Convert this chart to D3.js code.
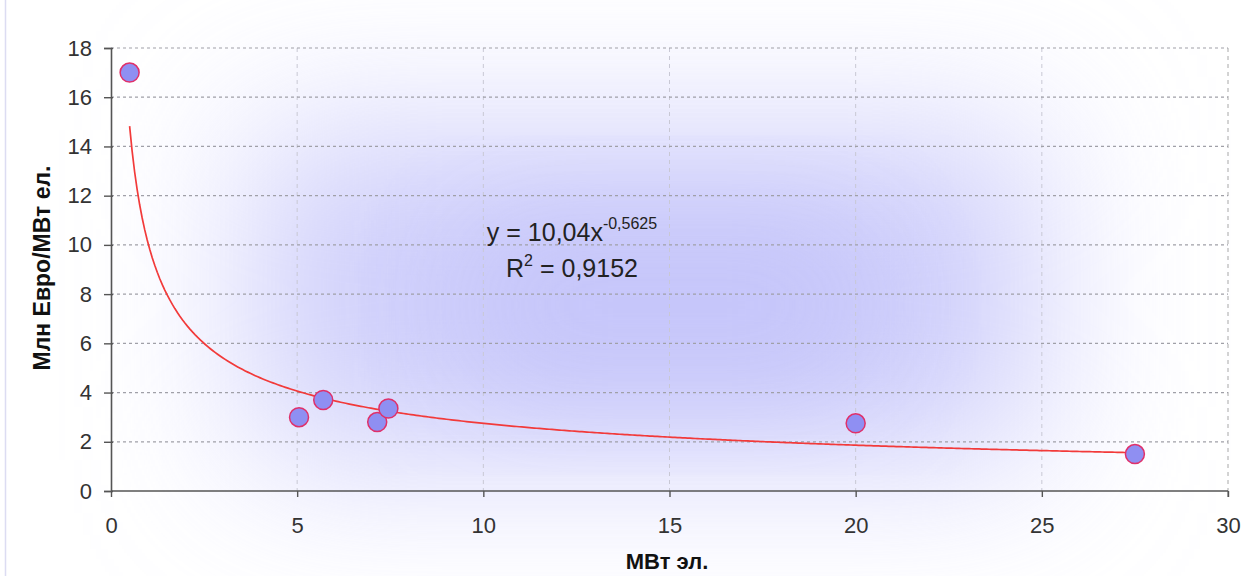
<!DOCTYPE html>
<html><head><meta charset="utf-8">
<script src="https://cdn.jsdelivr.net/npm/d3@7"></script>
<style>html,body{margin:0;padding:0;background:#fff;}svg{display:block;}</style>
</head><body>
<script>
// Data
const xValues = [0.5, 5.05, 5.7, 7.15, 7.45, 20, 27.5];
const yValues = [17, 3.0, 3.7, 2.8, 3.35, 2.75, 1.5];
const xTicks = [0, 5, 10, 15, 20, 25, 30];
const yTicks = [0, 2, 4, 6, 8, 10, 12, 14, 16, 18];
const trendCoef = [10.04, -0.5625];
const trendRange = [0.5, 27.5];
const eqLabel = ["y = 10,04x", "-0,5625"];
const r2Label = ["R", "2", " = 0,9152"];
const xTitle = "МВт эл.";
const yTitle = "Млн Евро/МВт ел.";

const W = 1244, H = 576;
const FONT = "Liberation Sans, Arial, sans-serif";
const m = {left: 111, right: 1228, top: 48, bottom: 491};
const svg = d3.select("body").append("svg").attr("width", W).attr("height", H);

const x = d3.scaleLinear().domain([0, 30]).range([m.left, m.right]);
const y = d3.scaleLinear().domain([0, 18]).range([m.bottom, m.top]);

// background gradient (soft rectangular glow)
const defs = svg.append("defs");
const f = defs.append("filter").attr("id", "blur").attr("x", "-50%").attr("y", "-50%").attr("width", "200%").attr("height", "200%");
f.append("feGaussianBlur").attr("stdDeviation", 80);
const f2 = defs.append("filter").attr("id", "blur2").attr("x", "-50%").attr("y", "-50%").attr("width", "200%").attr("height", "200%");
f2.append("feGaussianBlur").attr("stdDeviation", 60);
svg.append("rect").attr("width", W).attr("height", H).attr("fill", "#ffffff");
svg.append("rect").attr("x", 250).attr("y", 130).attr("width", 790).attr("height", 330)
  .attr("fill", "#cfcffb").attr("filter", "url(#blur)");
svg.append("rect").attr("x", 470).attr("y", 220).attr("width", 400).attr("height", 170)
  .attr("fill", "#c4c4fa").attr("filter", "url(#blur2)").attr("opacity", 0.9);

// left frame line
svg.append("line").attr("x1", 5.5).attr("x2", 5.5).attr("y1", 0).attr("y2", H)
  .attr("stroke", "#dcdcf2").attr("stroke-width", 1.5);

// vertical grid
svg.append("g").selectAll("line").data(xTicks.filter(d => d > 0)).join("line")
  .attr("x1", d => x(d)).attr("x2", d => x(d)).attr("y1", y(18)).attr("y2", y(0))
  .attr("stroke", d => d === 30 ? "#a8a8a8" : "#c8c8d4").attr("stroke-width", 1)
  .attr("stroke-dasharray", "4,4");
// horizontal grid
svg.append("g").selectAll("line").data(yTicks.filter(d => d > 0)).join("line")
  .attr("x1", x(0)).attr("x2", x(30)).attr("y1", d => y(d)).attr("y2", d => y(d))
  .attr("stroke", "#a0a0a8").attr("stroke-width", 1.2)
  .attr("stroke-dasharray", "3,3");

// axes
const xAxis = d3.axisBottom(x).tickValues(xTicks).tickSize(6).tickPadding(20).tickFormat(d3.format("d"));
const yAxis = d3.axisLeft(y).tickValues(yTicks).tickSize(7).tickPadding(12).tickFormat(d3.format("d"));
const gx = svg.append("g").attr("transform", `translate(0,${y(0)})`).call(xAxis);
const gy = svg.append("g").attr("transform", `translate(${x(0)},0)`).call(yAxis);
[gx, gy].forEach(g => {
  g.select(".domain").attr("stroke", "#555").attr("stroke-width", 1.6);
  g.selectAll(".tick line").attr("stroke", "#555").attr("stroke-width", 1.4);
  g.selectAll(".tick text").attr("font-family", FONT)
    .attr("font-size", 22).attr("fill", "#333");
});
gy.selectAll(".tick line").attr("x2", 2).attr("x1", -7);
gx.select(".domain").attr("d", `M${x(0)},0H${x(30)}`);
gx.append("line").attr("x1", x(30)).attr("x2", x(30)).attr("y1", 0).attr("y2", 6).attr("stroke", "#555");

// axis titles
svg.append("text").attr("x", 667).attr("y", 569).attr("text-anchor", "middle")
  .attr("font-family", FONT).attr("font-weight", "bold")
  .attr("font-size", 22).attr("fill", "#111").text(xTitle);
svg.append("text").attr("transform", "translate(50,268) rotate(-90)").attr("text-anchor", "middle")
  .attr("font-family", FONT).attr("font-weight", "bold")
  .attr("font-size", 23).attr("fill", "#111").text(yTitle);

// trend line
const xs = d3.range(0, 401).map(i => trendRange[0] + (trendRange[1] - trendRange[0]) * i / 400);
const line = d3.line().x(d => x(d)).y(d => y(trendCoef[0] * Math.pow(d, trendCoef[1])));
svg.append("path").datum(xs).attr("d", line).attr("fill", "none")
  .attr("stroke", "#f23a3a").attr("stroke-width", 1.7);

// points
const pts = xValues.map((v, i) => ({x: v, y: yValues[i]}));
svg.append("g").selectAll("circle").data(pts).join("circle")
  .attr("cx", d => x(d.x)).attr("cy", d => y(d.y)).attr("r", 9.5)
  .attr("fill", "#8f8ff2").attr("stroke", "#e0306a").attr("stroke-width", 1.5);

// equation
const eq = svg.append("text").attr("x", 572).attr("y", 241).attr("text-anchor", "middle")
  .attr("font-family", FONT).attr("font-size", 25).attr("fill", "#222");
eq.append("tspan").text(eqLabel[0]);
eq.append("tspan").attr("dy", -12).attr("font-size", 16).text(eqLabel[1]);
const r2 = svg.append("text").attr("x", 572).attr("y", 277).attr("text-anchor", "middle")
  .attr("font-family", FONT).attr("font-size", 25).attr("fill", "#222");
r2.append("tspan").text(r2Label[0]);
r2.append("tspan").attr("dy", -11).attr("font-size", 16).text(r2Label[1]);
r2.append("tspan").attr("dy", 11).text(r2Label[2]);
</script>
</body></html>
